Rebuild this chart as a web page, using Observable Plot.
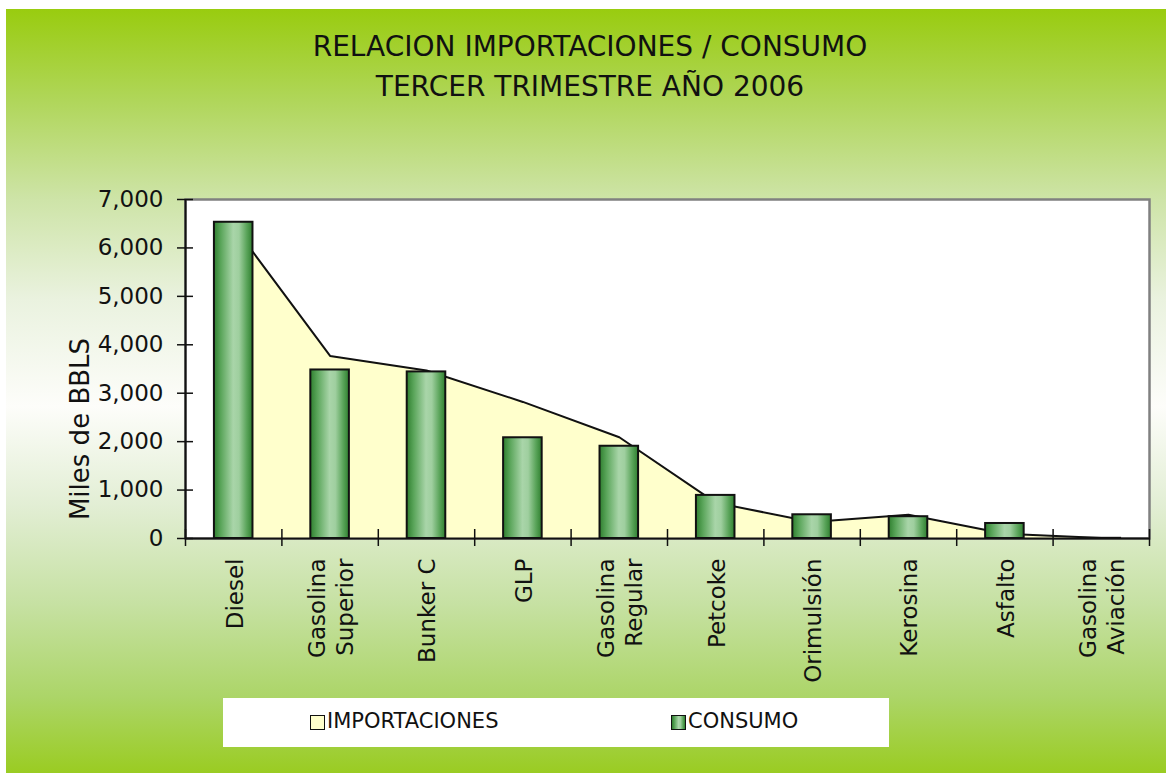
<!DOCTYPE html>
<html>
<head>
<meta charset="utf-8">
<script src="https://cdn.jsdelivr.net/npm/d3@7"></script>
<script src="https://cdn.jsdelivr.net/npm/@observablehq/plot@0.6"></script>
<style>
  body { margin: 0; background: white; }
  #wrap { position: relative; width: 1166px; height: 773px; background: white; overflow: hidden; font-family: "DejaVu Sans", sans-serif; }
  #bg { position: absolute; left: 6px; top: 9px; right: 0; bottom: 0;
    background: linear-gradient(to bottom, #99cc0f 0%, #b0d65a 12%, #cee4a8 25%, #eaf2df 38%, #fdfdfa 52%, #e2eed4 65%, #c6e1a2 78%, #acd568 90%, #9acc22 100%); }
  #chart { position: absolute; left: 0; top: 0; }
  #title { position: absolute; left: 90px; width: 1000px; top: 27px; text-align: center; font-size: 28px; line-height: 40px; color: #111; }
  #legend { position: absolute; left: 223px; top: 698px; width: 666px; height: 49px; background: white; }
  .sw { position: absolute; top: 17px; width: 13px; height: 13px; border: 1px solid #111; }
  .lt { position: absolute; top: 10px; font-size: 21px; line-height: 26px; color: #111; }
</style>
</head>
<body>
<div id="wrap">
  <div id="bg"></div>
  <div id="chart"></div>
  <div id="title">RELACION IMPORTACIONES / CONSUMO<br>TERCER TRIMESTRE AÑO 2006</div>
  <div id="legend">
    <div class="sw" style="left:87px;background:#ffffcc"></div>
    <div class="lt" style="left:104px">IMPORTACIONES</div>
    <div class="sw" style="left:448px;background:linear-gradient(to right,#2f7f2f 0%,#5aa55a 20%,#a9d5a9 50%,#9fcf9f 65%,#5aa45a 85%,#2f7f2f 100%)"></div>
    <div class="lt" style="left:465px">CONSUMO</div>
  </div>
</div>
<script>
const categories = ["Diesel", "Gasolina\nSuperior", "Bunker C", "GLP", "Gasolina\nRegular", "Petcoke", "Orimulsión", "Kerosina", "Asfalto", "Gasolina\nAviación"];
const importaciones = [6450, 3770, 3470, 2820, 2090, 740, 340, 490, 100, 10];
const consumo = [6530, 3480, 3440, 2080, 1905, 890, 490, 450, 310, 4];
const yTicks = [0, 1000, 2000, 3000, 4000, 5000, 6000, 7000];

const data = categories.map((c, i) => ({i, label: c, imp: importaciones[i], con: consumo[i]}));
const bounds = d3.range(categories.length + 1).map(k => k - 0.5);

const svg = Plot.plot({
  width: 1166,
  height: 700,
  marginLeft: 185,
  marginRight: 17,
  marginTop: 199,
  marginBottom: 162,
  style: {fontFamily: "DejaVu Sans", fontSize: "23px", color: "#111", background: "transparent", overflow: "visible"},
  x: {axis: null, domain: [-0.5, categories.length - 0.5]},
  y: {domain: [0, 7000], axis: null},
  marks: [
    Plot.frame({fill: "white", stroke: "#808080", strokeWidth: 2.5}),
    Plot.areaY(data, {x: "i", y1: 0, y2: "imp", fill: "#ffffcc"}),
    Plot.lineY(data, {x: "i", y: "imp", stroke: "#111", strokeWidth: 2}),
    Plot.rect(data, {x1: d => d.i - 0.2, x2: d => d.i + 0.2, y1: 0, y2: "con", fill: "url(#bargrad)", stroke: "#111", strokeWidth: 2}),
    Plot.ruleX([-0.5], {stroke: "#111", strokeWidth: 2}),
    Plot.ruleY([0], {stroke: "#111", strokeWidth: 2}),
    Plot.ruleX(bounds, {y1: 0, y2: 0, insetTop: -9, insetBottom: -8, stroke: "#111", strokeWidth: 1.5}),
    Plot.ruleY(yTicks, {x1: -0.5, x2: -0.5, insetLeft: -8, insetRight: -8, stroke: "#111", strokeWidth: 1.5}),
    Plot.axisY({ticks: yTicks, tickSize: 0, tickPadding: 22, tickFormat: d3.format(","), label: null, fontSize: 23, fill: "#111"}),
    Plot.text(data, {x: "i", text: "label", frameAnchor: "bottom", dy: 20, rotate: -90, textAnchor: "end", lineAnchor: "middle", lineHeight: 1.2, fontSize: 23, fill: "#111"}),
    Plot.text(["Miles de BBLS"], {text: d => d, frameAnchor: "left", dx: -105, dy: 60, rotate: -90, textAnchor: "middle", lineAnchor: "middle", fontSize: 26, fill: "#111"})
  ]
});

svg.insertAdjacentHTML("afterbegin",
  '<defs><linearGradient id="bargrad" x1="0" y1="0" x2="1" y2="0">' +
  '<stop offset="0%" stop-color="#2f7f2f"/>' +
  '<stop offset="18%" stop-color="#5aa55a"/>' +
  '<stop offset="50%" stop-color="#a9d5a9"/>' +
  '<stop offset="65%" stop-color="#9fcf9f"/>' +
  '<stop offset="85%" stop-color="#5aa45a"/>' +
  '<stop offset="100%" stop-color="#2f7f2f"/>' +
  '</linearGradient></defs>');

document.getElementById("chart").appendChild(svg);
</script>
</body>
</html>
